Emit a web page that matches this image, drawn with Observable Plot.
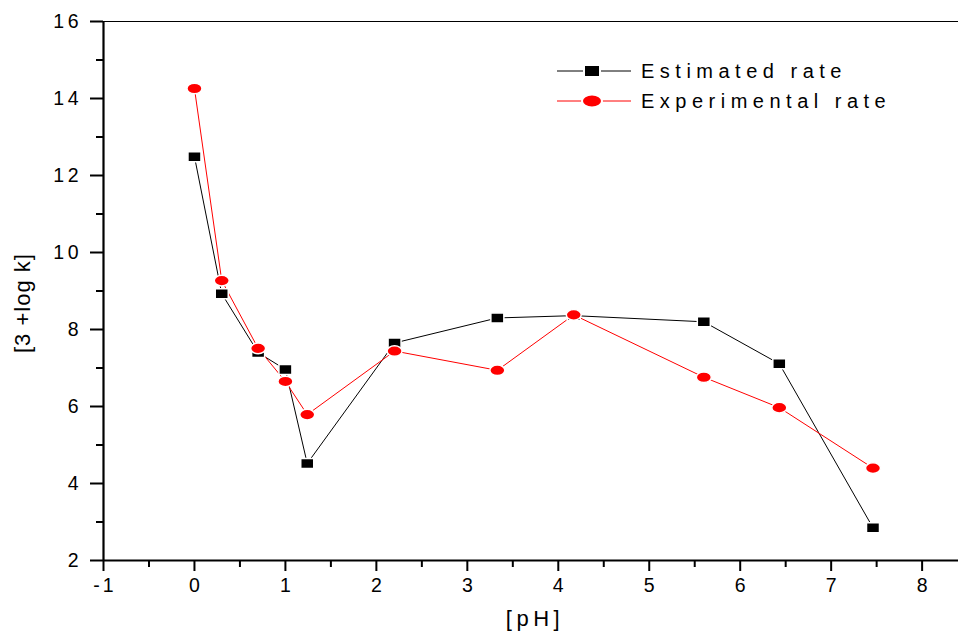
<!DOCTYPE html>
<html><head><meta charset="utf-8">
<script src="https://cdn.jsdelivr.net/npm/d3@7"></script>
<script src="https://cdn.jsdelivr.net/npm/@observablehq/plot@0.6"></script>
<style>
body{margin:0;background:#fff;}
#wrap{position:relative;width:960px;height:637px;font-family:"Liberation Sans",Arial,sans-serif;}
#legend{position:absolute;left:556px;top:56px;}
.lrow{display:flex;align-items:center;height:30px;}
.lrow span{font-size:20px;letter-spacing:5.5px;margin-left:9px;color:#000;}
</style></head><body><div id="wrap"><div id="legend"></div></div>
<script>
// Data
const pH = [0, 0.3, 0.7, 1.0, 1.24, 2.2, 3.33, 4.17, 5.6, 6.43, 7.46];
const estimated = [12.49, 8.93, 7.40, 6.96, 4.52, 7.65, 8.30, 8.36, 8.20, 7.11, 2.85];
const experimental = [14.26, 9.27, 7.51, 6.65, 5.79, 7.44, 6.94, 8.38, 6.76, 5.97, 4.40];
const seriesNames = ["Estimated rate", "Experimental rate"];
const seriesColors = ["#000000", "#ff0000"];
const xTicks = [-1, 0, 1, 2, 3, 4, 5, 6, 7, 8];
const xMinorTicks = [-0.5, 0.5, 1.5, 2.5, 3.5, 4.5, 5.5, 6.5, 7.5];
const yTicks = [2, 4, 6, 8, 10, 12, 14, 16];
const yMinorTicks = [3, 5, 7, 9, 11, 13, 15];
const xTitle = "[pH]";
const yTitle = "[3 +log k]";

const estRows = pH.map((x, i) => ({pH: x, v: estimated[i]}));
const expRows = pH.map((x, i) => ({pH: x, v: experimental[i]}));

const rectSym = {draw(ctx) {ctx.moveTo(-6.5, -5); ctx.lineTo(6.5, -5); ctx.lineTo(6.5, 5); ctx.lineTo(-6.5, 5); ctx.closePath();}};
function ellipse(ctx, a, b) {
  const k = 0.5523;
  ctx.moveTo(a, 0);
  ctx.bezierCurveTo(a, b * k, a * k, b, 0, b);
  ctx.bezierCurveTo(-a * k, b, -a, b * k, -a, 0);
  ctx.bezierCurveTo(-a, -b * k, -a * k, -b, 0, -b);
  ctx.bezierCurveTo(a * k, -b, a, -b * k, a, 0);
  ctx.closePath();
}
const ellSym = {draw(ctx) {ellipse(ctx, 7.5, 5.3);}};

const chart = Plot.plot({
  width: 960,
  height: 637,
  marginLeft: 103,
  marginRight: 2,
  marginTop: 21,
  marginBottom: 77,
  style: {fontFamily: "Liberation Sans, Arial, sans-serif", fontSize: "19px", background: "#fff", color: "#000"},
  x: {domain: [-1, 8.4]},
  y: {domain: [2, 16]},
  marks: [
    Plot.ruleY([16], {stroke: "#000", strokeWidth: 1}),
    Plot.axisX({ticks: xTicks, tickSize: 11, tickPadding: 7, strokeWidth: 2, fontSize: 19.5, label: null, tickFormat: d => String(d).replace("−", "-")}),
    Plot.axisX({ticks: xMinorTicks, tickSize: 7, strokeWidth: 2, text: null, label: null}),
    Plot.axisY({ticks: yTicks, tickSize: 13, tickPadding: 8.5, strokeWidth: 2, fontSize: 19.5, label: null}),
    Plot.axisY({ticks: yMinorTicks, tickSize: 7, strokeWidth: 2, text: null, label: null}),
    Plot.ruleX([-1], {stroke: "#000", strokeWidth: 2.2}),
    Plot.ruleY([2], {stroke: "#000", strokeWidth: 2.2}),
    Plot.line(estRows, {x: "pH", y: "v", stroke: seriesColors[0], strokeWidth: 1}),
    Plot.line(expRows, {x: "pH", y: "v", stroke: seriesColors[1], strokeWidth: 1}),
    Plot.dot(estRows, {x: "pH", y: "v", symbol: rectSym, fill: seriesColors[0], stroke: "#fff", strokeWidth: 1.5, r: 6}),
    Plot.dot(expRows, {x: "pH", y: "v", symbol: ellSym, fill: seriesColors[1], stroke: "#fff", strokeWidth: 1.5, r: 6}),
    Plot.text([xTitle], {frameAnchor: "bottom", dy: 65, dx: 4, fontSize: 22, fill: "#000"}),
    Plot.text([yTitle], {frameAnchor: "left", dx: -81, dy: 62, rotate: -90, fontSize: 22, fill: "#000"})
  ]
});
document.getElementById("wrap").appendChild(chart);
// letter spacing on titles and tick labels like the reference
const sel = d3.select(chart);
sel.selectAll("text").filter(function() {return this.textContent === xTitle;}).style("letter-spacing", "4.5px");
sel.selectAll("text").filter(function() {return this.textContent === yTitle;}).style("letter-spacing", "1px");
sel.selectAll('g[aria-label="y-axis tick label"] text').style("letter-spacing", "3.5px");
sel.selectAll('g[aria-label="x-axis tick label"] text').style("letter-spacing", "3px").attr("dx", "1.5");

// Legend
const legend = d3.select("#legend");
seriesNames.forEach((name, i) => {
  const row = legend.append("div").attr("class", "lrow");
  const svg = row.append("svg").attr("width", 76).attr("height", 24);
  svg.append("line").attr("x1", 1).attr("x2", 75).attr("y1", 12).attr("y2", 12).attr("stroke", seriesColors[i]).attr("stroke-width", 1);
  if (i === 0) {
    svg.append("rect").attr("x", 28).attr("y", 6).attr("width", 16).attr("height", 12).attr("fill", seriesColors[i]).attr("stroke", "#fff").attr("stroke-width", 2);
  } else {
    svg.append("ellipse").attr("cx", 36).attr("cy", 12).attr("rx", 10).attr("ry", 6.5).attr("fill", seriesColors[i]).attr("stroke", "#fff").attr("stroke-width", 2);
  }
  row.append("span").text(name);
});
</script>
</body></html>
